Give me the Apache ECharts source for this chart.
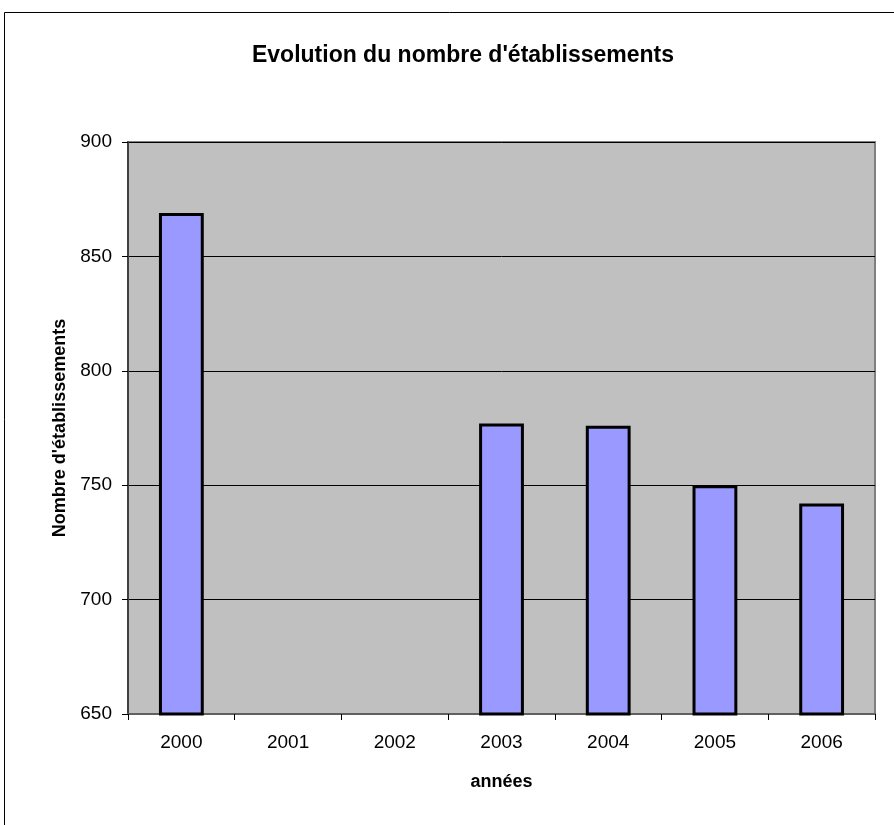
<!DOCTYPE html>
<html>
<head>
<meta charset="utf-8">
<style>
  html, body { margin: 0; padding: 0; background: #fff; }
  #chart { width: 894px; height: 825px; }
</style>
<script src="https://cdn.jsdelivr.net/npm/echarts@6/dist/echarts.min.js"></script>
</head>
<body>
<div id="chart"></div>
<script>
var annees = ['2000', '2001', '2002', '2003', '2004', '2005', '2006'];
var etablissements = [869, null, null, 777, 776, 750, 742];
var yTicks = { min: 650, max: 900, interval: 50 };

var chart = echarts.init(document.getElementById('chart'));
chart.setOption({
    textStyle: { fontFamily: 'Liberation Sans, Arial, sans-serif' },
    graphic: [{
        type: 'rect',
        shape: { x: 4.5, y: 12.5, width: 1000, height: 1000 },
        style: { fill: 'none', stroke: '#000', lineWidth: 1 },
        silent: true
    }],
    title: {
        text: "Evolution du nombre d'établissements",
        left: 458,
        textAlign: 'center',
        top: 39,
        textStyle: { fontSize: 23, fontWeight: 'bold', color: '#000', fontFamily: 'Liberation Sans, Arial, sans-serif' }
    },
    grid: {
        left: 128, right: 19, top: 142, bottom: 111,
        show: true,
        backgroundColor: '#c0c0c0',
        borderColor: '#808080',
        borderWidth: 2
    },
    xAxis: {
        type: 'category',
        data: annees,
        name: 'années',
        nameLocation: 'middle',
        nameGap: 59,
        nameTextStyle: { fontSize: 18, fontWeight: 'bold', color: '#000' },
        axisLine: { lineStyle: { color: '#606060', width: 2 } },
        axisTick: { show: true, inside: false, length: 6, lineStyle: { color: '#000' } },
        axisLabel: { fontSize: 19, color: '#000', margin: 19 }
    },
    yAxis: {
        type: 'value',
        min: yTicks.min,
        max: yTicks.max,
        interval: yTicks.interval,
        name: "Nombre d'établissements",
        nameLocation: 'middle',
        nameGap: 59,
        nameRotate: 90,
        nameTextStyle: { fontSize: 18, fontWeight: 'bold', color: '#000' },
        axisLine: { show: true, lineStyle: { color: '#404040', width: 2 } },
        axisTick: { show: true, inside: false, length: 6, lineStyle: { color: '#000' } },
        axisLabel: { fontSize: 19, color: '#000', margin: 16 },
        splitLine: { show: true, lineStyle: { color: '#000', width: 1 } }
    },
    series: [{
        type: 'bar',
        data: etablissements,
        barWidth: '42%',
        itemStyle: { color: '#9999ff', borderColor: '#000', borderWidth: 3 },
        animation: false
    }],
    animation: false
});
</script>
</body>
</html>
